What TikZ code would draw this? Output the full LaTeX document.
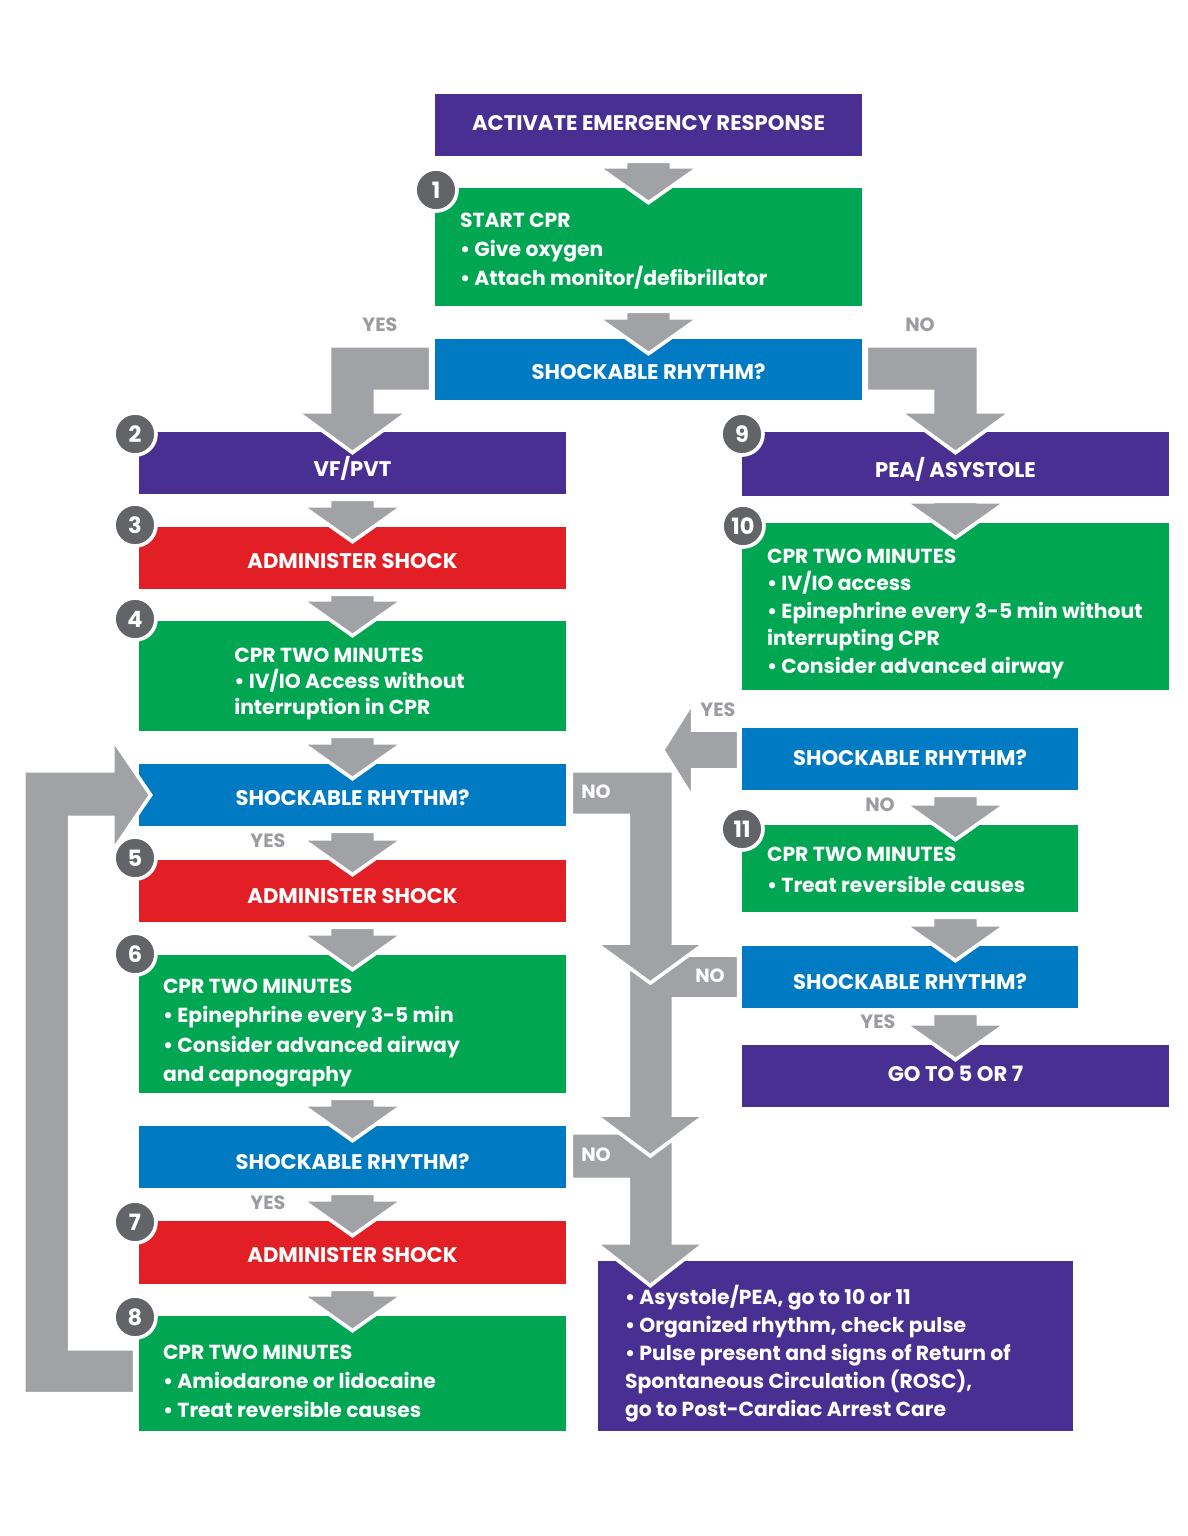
\documentclass[tikz,border=0pt]{standalone}
\usepackage{fontspec}
\setmainfont{Poppins}
\usetikzlibrary{calc}

\definecolor{ahaPurple}{HTML}{4A2F92}
\definecolor{ahaGreen}{HTML}{00A651}
\definecolor{ahaBlue}{HTML}{007BC3}
\definecolor{ahaRed}{HTML}{E31F26}
\definecolor{arrowGray}{HTML}{A1A2A6}
\definecolor{numGray}{HTML}{636467}
\definecolor{labelGray}{HTML}{9B9CA0}

\tikzset{
	flowbox/.style={rectangle, inner sep=0pt, text=white, align=center, text depth=0.2pt, text height=12.6pt, font=\fontsize{12.7}{17.5}\selectfont\bfseries},
	purplebox/.style={flowbox, fill=ahaPurple},
	greenbox/.style={flowbox, fill=ahaGreen},
	bluebox/.style={flowbox, fill=ahaBlue},
	redbox/.style={flowbox, fill=ahaRed},
	boxsize/.style 2 args={minimum width=#1*0.6pt, minimum height=#2*0.6pt},
	capline/.style={text height=#1},
	boxtext/.style={text=white, inner sep=0pt, align=left, font=\fontsize{12.2}{#1}\selectfont\bfseries},
	boxtext/.default=17.5pt,
	stepnum/.style={circle, fill=numGray, draw=white, line width=2.2pt, minimum size=42*0.6pt, inner sep=0pt, text=white, font=\fontsize{13.5}{13.5}\selectfont\bfseries},
	blockarrow/.style={fill=arrowGray, draw=white, line width=2.2pt, line join=miter},
	answer/.style={text=labelGray, inner sep=0pt, font=\fontsize{11.5}{12}\selectfont\bfseries},
	answerin/.style={answer, text=white}
}

% straight block arrow from the bottom of one box into the top of the next
\newcommand{\blockdn}[3][0]{%
	\fill[blockarrow]
	($(#2.south)+(#1-23,5)$) -- ($(#2.south)+(#1+23,5)$)
	-- ($(#2.south |- #3.north)+(#1+23,-21)$) -- ($(#2.south |- #3.north)+(#1+51,-21)$)
	-- ($(#2.south |- #3.north)+(#1,15)$)
	-- ($(#2.south |- #3.north)+(#1-51,-21)$) -- ($(#2.south |- #3.north)+(#1-23,-21)$) -- cycle;}

\begin{document}
\begin{tikzpicture}[x=0.6pt,y=0.6pt,yscale=-1,xscale=1]
		\useasboundingbox (0,0) rectangle (1187,1536);

		% Top of the chart
		\node[purplebox, boxsize={427}{62}, capline=6.6pt] (act) at (648.5,125) {ACTIVATE EMERGENCY RESPONSE};
		\node[greenbox, boxsize={427}{118}] (start) at (648.5,247) {};
		\node[bluebox, boxsize={427}{61}] (shock1) at (648.5,369.5) {SHOCKABLE RHYTHM?};

		% Left column (VF/PVT)
		\node[purplebox, boxsize={427}{62}, capline=16.2pt] (vf) at (352.5,463) {VF/PVT};
		\node[redbox, boxsize={427}{62}] (shockA) at (352.5,558) {ADMINISTER SHOCK};
		\node[greenbox, boxsize={427}{110}] (cprA) at (352.5,676) {};
		\node[bluebox, boxsize={427}{62}] (rhythmA) at (352.5,795) {SHOCKABLE RHYTHM?};
		\node[redbox, boxsize={427}{62}, capline=15pt] (shockB) at (352.5,891) {ADMINISTER SHOCK};
		\node[greenbox, boxsize={427}{138}] (cprB) at (352.5,1024) {};
		\node[bluebox, boxsize={427}{62}, capline=15pt] (rhythmB) at (352.5,1157) {SHOCKABLE RHYTHM?};
		\node[redbox, boxsize={427}{63}] (shockC) at (352.5,1252.5) {ADMINISTER SHOCK};
		\node[greenbox, boxsize={427}{115}] (cprC) at (352.5,1373.5) {};

		% Right column (PEA/asystole)
		\node[purplebox, boxsize={427}{64}, capline=16.2pt] (pea) at (955.5,464) {PEA/ ASYSTOLE};
		\node[greenbox, boxsize={427}{167}] (cprD) at (955.5,606.5) {};
		\node[bluebox, boxsize={336}{62}, capline=7.8pt] (rhythmC) at (910,759) {SHOCKABLE RHYTHM?};
		\node[greenbox, boxsize={336}{87}] (cprE) at (910,868.5) {};
		\node[bluebox, boxsize={336}{62}, capline=15pt] (rhythmD) at (910,977) {SHOCKABLE RHYTHM?};
		\node[purplebox, boxsize={427}{62}, capline=7pt] (goto) at (955.5,1076) {GO TO 5 OR 7};
		\node[purplebox, boxsize={475}{170}] (rosc) at (835.5,1346) {};

		% Short arrows between stacked boxes
		\blockdn{act}{start}
		\blockdn{start}{shock1}
		\blockdn{vf}{shockA}
		\blockdn{shockA}{cprA}
		\blockdn{cprA}{rhythmA}
		\blockdn{rhythmA}{shockB}
		\blockdn{shockB}{cprB}
		\blockdn{cprB}{rhythmB}
		\blockdn{rhythmB}{shockC}
		\blockdn{shockC}{cprC}
		\blockdn{pea}{cprD}
		\blockdn[45.5]{rhythmC}{cprE}
		\blockdn[45.5]{cprE}{rhythmD}
		\blockdn[45.5]{rhythmD}{goto}

		% YES branch into VF/PVT
		\fill[blockarrow] ($(shock1.north west)+(-4,7)$) -- ($(shock1.north west -| vf.north)+(-23,7)$) -- ($(vf.north)+(-23,-20)$) -- ($(vf.north)+(-56,-20)$) -- ($(vf.north)+(0,21)$) -- ($(vf.north)+(56,-20)$) -- ($(vf.north)+(23,-20)$) -- ($(shock1.south west -| vf.north)+(23,-9)$) -- ($(shock1.south west)+(-4,-9)$) -- cycle;

		% NO branch into PEA/asystole
		\fill[blockarrow] ($(shock1.north east)+(4,7)$) -- ($(shock1.north east -| pea.north)+(23,7)$) -- ($(pea.north)+(23,-20)$) -- ($(pea.north)+(56,-20)$) -- ($(pea.north)+(0,21)$) -- ($(pea.north)+(-56,-20)$) -- ($(pea.north)+(-23,-20)$) -- ($(shock1.south east -| pea.north)+(-23,-9)$) -- ($(shock1.south east)+(4,-9)$) -- cycle;

		% Loop back from 8 to the rhythm check
		\fill[blockarrow] ($(cprC.north west)+(-4,33)$) -- ($(cprC.north west)+(-69,33)$) -- ($(rhythmA.south west)+(-69,-9)$) -- ($(rhythmA.south west)+(-26,-9)$) -- ($(rhythmA.west)+(-26,56)$) -- ($(rhythmA.west)+(12,0)$) -- ($(rhythmA.west)+(-26,-56)$) -- ($(rhythmA.north west)+(-26,7)$) -- ($(rhythmA.north west)+(-115,7)$) -- ($(cprC.north west)+(-115,78)$) -- ($(cprC.north west)+(-4,78)$) -- cycle;

		% YES pointing left from the right rhythm check
		\fill[blockarrow] ($(rhythmC.west)+(-3,-29)$) -- ($(rhythmC.west)+(-49,-29)$) -- ($(rhythmC.west)+(-49,-57)$) -- ($(rhythmC.west)+(-79,-9)$) -- ($(rhythmC.west)+(-49,39)$) -- ($(rhythmC.west)+(-49,11)$) -- ($(rhythmC.west)+(-3,11)$) -- cycle;

		% NO branches down the middle, lowest first
		\fill[blockarrow] ($(rhythmB.north east)+(5,7)$) -- ($(rhythmB.north east)+(107,7)$) -- ($(rhythmB.east |- rosc.north)+(107,-18)$) -- ($(rhythmB.east |- rosc.north)+(139,-18)$) -- ($(rhythmB.east |- rosc.north)+(84,25)$) -- ($(rhythmB.east |- rosc.north)+(29,-18)$) -- ($(rhythmB.east |- rosc.north)+(62,-18)$) -- ($(rhythmB.south east)+(62,-9)$) -- ($(rhythmB.south east)+(5,-9)$) -- cycle;
		\fill[blockarrow] ($(rhythmD.west)+(-3,-22)$) -- ($(rhythmD.west -| rhythmA.east)+(62,-22)$) -- ($(rhythmA.east |- rhythmB.east)+(62,-42)$) -- ($(rhythmA.east |- rhythmB.east)+(29,-42)$) -- ($(rhythmA.east |- rhythmB.east)+(84,-1)$) -- ($(rhythmA.east |- rhythmB.east)+(139,-42)$) -- ($(rhythmA.east |- rhythmB.east)+(107,-42)$) -- ($(rhythmD.west -| rhythmA.east)+(107,22)$) -- ($(rhythmD.west)+(-3,22)$) -- cycle;
		\fill[blockarrow] ($(rhythmA.north east)+(5,7)$) -- ($(rhythmA.north east)+(107,7)$) -- ($(rhythmA.east |- rhythmD.west)+(107,-34)$) -- ($(rhythmA.east |- rhythmD.west)+(139,-34)$) -- ($(rhythmA.east |- rhythmD.west)+(84,6)$) -- ($(rhythmA.east |- rhythmD.west)+(29,-34)$) -- ($(rhythmA.east |- rhythmD.west)+(62,-34)$) -- ($(rhythmA.south east)+(62,-11)$) -- ($(rhythmA.south east)+(5,-11)$) -- cycle;

		% Texts of the longer boxes
		\node[boxtext, anchor=west] (startText) at ($(start.west)+(25,4)$) {START CPR\\ \textbullet\ Give oxygen\\ \textbullet\ Attach monitor/defibrillator};
		\node[boxtext=15.5pt] (cprAText) at ($(cprA.center)+(-3,8)$) {CPR TWO MINUTES\\ \textbullet\ IV/IO Access without\\ interruption in CPR};
		\node[boxtext, anchor=west] (cprBText) at ($(cprB.west)+(24,9)$) {CPR TWO MINUTES\\ \textbullet\ Epinephrine every 3-5 min\\ \textbullet\ Consider advanced airway\\ and capnography};
		\node[boxtext, anchor=west] (cprCText) at ($(cprC.west)+(24,8)$) {CPR TWO MINUTES\\ \textbullet\ Amiodarone or lidocaine\\ \textbullet\ Treat reversible causes};
		\node[boxtext=16.5pt, anchor=west] (cprDText) at ($(cprD.west)+(25,7)$) {CPR TWO MINUTES\\ \textbullet\ IV/IO access\\ \textbullet\ Epinephrine every 3-5 min without\\ interrupting CPR\\ \textbullet\ Consider advanced airway};
		\node[boxtext=18.5pt, anchor=west] (cprEText) at ($(cprE.west)+(25,1)$) {CPR TWO MINUTES\\ \textbullet\ Treat reversible causes};
		\node[boxtext=16.8pt, anchor=west] (roscText) at ($(rosc.west)+(27,8)$) {\textbullet\ Asystole/PEA, go to 10 or 11\\ \textbullet\ Organized rhythm, check pulse\\ \textbullet\ Pulse present and signs of Return of\\ Spontaneous Circulation (ROSC),\\ go to Post-Cardiac Arrest Care};

		% YES / NO labels
		\node[answer] (yesTop) at (380,325) {YES};
		\node[answer] (noTop) at (920,325) {NO};
		\node[answer] (yesA) at (268,841) {YES};
		\node[answer] (yesB) at (268,1203) {YES};
		\node[answer] (yesC) at (718,710) {YES};
		\node[answer] (noC) at (880,805) {NO};
		\node[answer] (yesD) at (878,1022) {YES};
		\node[answerin] (noA) at (596,792) {NO};
		\node[answerin] (noD) at (710,976) {NO};
		\node[answerin] (noB) at (596,1155) {NO};

		% Step numbers
		\node[stepnum] (n1) at (436,190) {1};
		\node[stepnum] (n2) at (135,434) {2};
		\node[stepnum] (n3) at (135,525) {3};
		\node[stepnum] (n4) at (135,619) {4};
		\node[stepnum] (n5) at (135,858) {5};
		\node[stepnum] (n6) at (135,954) {6};
		\node[stepnum] (n7) at (135,1222) {7};
		\node[stepnum] (n8) at (135,1317) {8};
		\node[stepnum] (n9) at (742,434) {9};
		\node[stepnum] (n10) at (743,526) {10};
		\node[stepnum] (n11) at (742,829) {11};
	\end{tikzpicture}
\end{document}
